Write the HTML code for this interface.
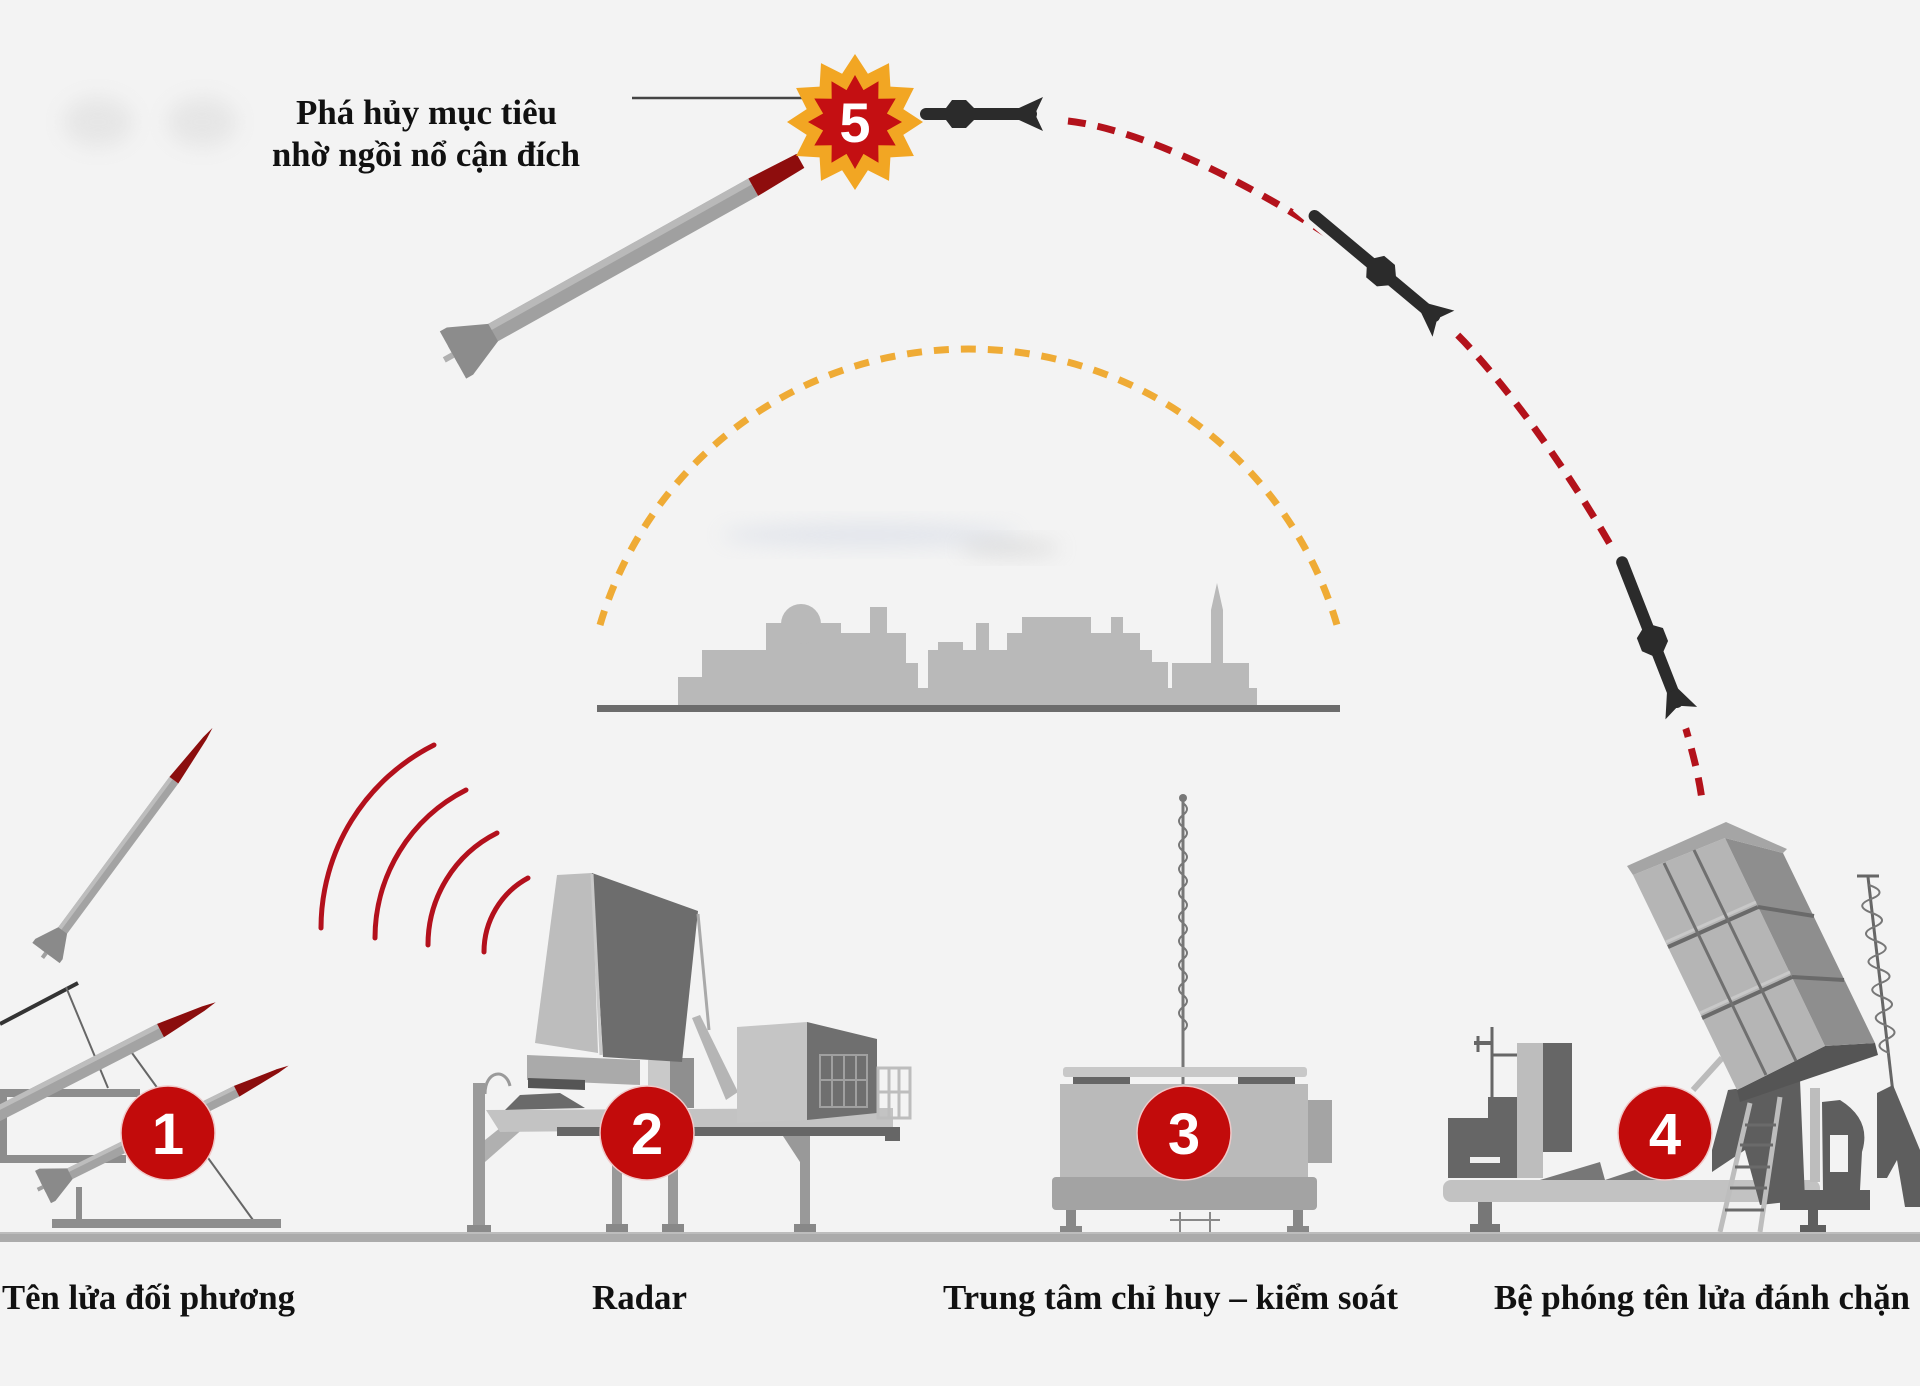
<!DOCTYPE html>
<html>
<head>
<meta charset="utf-8">
<style>
html,body{margin:0;padding:0;background:#f3f3f3;}
svg{display:block;}
.lbl{font-family:"Liberation Serif","DejaVu Serif",serif;font-weight:bold;font-size:35px;fill:#111;}
.num{font-family:"Liberation Sans","DejaVu Sans",sans-serif;font-weight:bold;font-size:58px;fill:#fff;}
</style>
</head>
<body>
<svg width="1920" height="1386" viewBox="0 0 1920 1386" xmlns="http://www.w3.org/2000/svg">
<defs>
<filter id="bl" x="-50%" y="-50%" width="200%" height="200%"><feGaussianBlur stdDeviation="10"/></filter>
</defs>
<rect x="0" y="0" width="1920" height="1386" fill="#f3f3f3"/>

<!-- soft smudges -->
<ellipse cx="98" cy="122" rx="35" ry="25" fill="#cfcfcf" opacity="0.35" filter="url(#bl)"/>
<ellipse cx="202" cy="122" rx="35" ry="25" fill="#cfcfcf" opacity="0.35" filter="url(#bl)"/>
<ellipse cx="870" cy="535" rx="150" ry="12" fill="#c9d0e0" opacity="0.4" filter="url(#bl)"/>
<ellipse cx="1010" cy="548" rx="50" ry="9" fill="#bdbdbd" opacity="0.35" filter="url(#bl)"/>

<!-- Top text -->
<text class="lbl" x="296" y="124" textLength="261" lengthAdjust="spacingAndGlyphs">Phá hủy mục tiêu</text>
<text class="lbl" x="272" y="166" textLength="308" lengthAdjust="spacingAndGlyphs">nhờ ngồi nổ cận đích</text>
<line x1="632" y1="98" x2="812" y2="98" stroke="#444" stroke-width="2.5"/>

<!-- Red dashed trajectory -->
<path d="M1068 121 C1190 135 1400 270 1470 348 C1545 430 1640 580 1665 660 C1690 740 1698 770 1702 800" fill="none" stroke="#b3121b" stroke-width="7" stroke-dasharray="18 12"/>

<!-- Yellow dome -->
<path d="M600 625 A384 384 0 0 1 1337 625" fill="none" stroke="#efab35" stroke-width="7" stroke-dasharray="15 12"/>

<!-- Skyline -->
<polygon fill="#b9b9b9" points="678,708 678,677 702,677 702,650 766,650 766,623 841,623 841,633 870,633 870,607 887,607 887,633 906,633 906,663 918,663 918,688 928,688 928,650 938,650 938,642 963,642 963,650 976,650 976,623 989,623 989,650 1007,650 1007,633 1022,633 1022,617 1091,617 1091,633 1111,633 1111,617 1123,617 1123,633 1140,633 1140,650 1152,650 1152,662 1168,662 1168,688 1172,688 1172,663 1211,663 1211,610 1217,583 1223,610 1223,663 1249,663 1249,688 1257,688 1257,708"/>
<circle cx="801" cy="624" r="20" fill="#b9b9b9"/>
<rect x="597" y="705" width="743" height="7" fill="#6c6c6c"/>

<!-- Big gray enemy rocket -->
<g transform="translate(453,355) rotate(-29.2)">
  <rect x="-10" y="-3" width="10" height="6" fill="#b0b0b0"/>
  <rect x="0" y="-10" width="344" height="20" fill="#a0a0a0"/>
  <rect x="0" y="-10" width="344" height="7" fill="#b9b9b9"/>
  <polygon points="344,-10 398,-8 398,8 344,10" fill="#8e0d0d"/>
  <polygon points="0,-27 8,-27 46,-10 46,10 8,27 0,27" fill="#8c8c8c"/>
</g>

<!-- Explosion star 5 -->
<polygon fill="#f2a623" points="855,54 867.9,73.7 889,63.1 890.4,86.6 913.9,88 903.3,109.1 923,122 903.3,134.9 913.9,156 890.4,157.4 889,180.9 867.9,170.3 855,190 842.1,170.3 821,180.9 819.6,157.4 796.1,156 806.7,134.9 787,122 806.7,109.1 796.1,88 819.6,86.6 821,63.1 842.1,73.7"/>
<polygon fill="#c40f12" points="855,75 863.5,90.1 878.5,81.3 878.3,98.7 895.7,98.5 886.9,113.5 902,122 886.9,130.5 895.7,145.5 878.3,145.3 878.5,162.7 863.5,153.9 855,169 846.5,153.9 831.5,162.7 831.7,145.3 814.3,145.5 823.1,130.5 808,122 823.1,113.5 814.3,98.5 831.7,98.7 831.5,81.3 846.5,90.1"/>
<text class="num" x="855" y="142" text-anchor="middle" style="font-size:56px">5</text>

<!-- Black interceptor rockets -->
<g transform="translate(1045,114) rotate(180)" fill="#2b2b2b">
  <line x1="14" y1="0" x2="119" y2="0" stroke="#2b2b2b" stroke-width="12" stroke-linecap="round"/>
  <polygon points="26,-6 2,-17 10,0 2,17 26,6"/>
  <polygon points="71,-6 79,-14 93,-14 99,-6 99,6 93,14 79,14 71,6"/>
</g>
<g transform="translate(1445,325) rotate(219.9)" fill="#2b2b2b">
  <line x1="-14" y1="0" x2="190" y2="0" stroke="#f3f3f3" stroke-width="20"/>
  <line x1="14" y1="0" x2="170" y2="0" stroke="#2b2b2b" stroke-width="12" stroke-linecap="round"/>
  <polygon points="26,-6 2,-17 10,0 2,17 26,6"/>
  <polygon points="69,-6 77,-14 91,-14 97,-6 97,6 91,14 77,14 69,6"/>
</g>
<g transform="translate(1682,715) rotate(248.6)" fill="#2b2b2b">
  <line x1="-14" y1="0" x2="184" y2="0" stroke="#f3f3f3" stroke-width="20"/>
  <line x1="14" y1="0" x2="164" y2="0" stroke="#2b2b2b" stroke-width="12" stroke-linecap="round"/>
  <polygon points="26,-6 2,-17 10,0 2,17 26,6"/>
  <polygon points="66,-6 74,-14 88,-14 94,-6 94,6 88,14 74,14 66,6"/>
</g>

<!-- Radar waves -->
<g fill="none" stroke="#b3101c" stroke-width="5" stroke-linecap="round">
  <path d="M434 745 A205 205 0 0 0 321 928"/>
  <path d="M466 790 A166 166 0 0 0 375 938"/>
  <path d="M497 833 A125 125 0 0 0 428 945"/>
  <path d="M528 878 A84 84 0 0 0 484 952"/>
</g>

<!-- Ground -->
<rect x="0" y="1232" width="1920" height="10" fill="#ababab"/>
<rect x="0" y="1232" width="1920" height="2" fill="#bdbdbd"/>

<!-- ===== Launcher 1 (enemy) ===== -->
<rect x="0" y="1089" width="140" height="8" fill="#8d8d8d"/>
<rect x="0" y="1155" width="126" height="8" fill="#8d8d8d"/>
<rect x="0" y="1097" width="7" height="58" fill="#8d8d8d"/>
<line x1="0" y1="1024" x2="78" y2="983" stroke="#333" stroke-width="4"/>
<line x1="66" y1="987" x2="108" y2="1088" stroke="#666" stroke-width="2"/>
<line x1="132" y1="1053" x2="253" y2="1220" stroke="#666" stroke-width="2"/>
<rect x="52" y="1219" width="229" height="9" fill="#8d8d8d"/>
<rect x="76" y="1187" width="6" height="33" fill="#8d8d8d"/>

<!-- flying rocket -->
<g transform="translate(46,953) rotate(-53.5)">
  <rect x="-6" y="-2" width="6" height="4" fill="#a0a0a0"/>
  <rect x="0" y="-5.5" width="215" height="11" fill="#a3a3a3"/>
  <rect x="0" y="-5.5" width="215" height="4" fill="#bdbdbd"/>
  <polygon points="215,-5.5 267,-2 280,0 267,2 215,5.5" fill="#8b0d0d"/>
  <polygon points="0,-17 5,-17 28,-5.5 28,5.5 5,17 0,17" fill="#8a8a8a"/>
</g>
<!-- middle rocket -->
<g transform="translate(-30,1128) rotate(-27.1)">
  <rect x="0" y="-7.5" width="214" height="15" fill="#a3a3a3"/>
  <rect x="0" y="-7.5" width="214" height="5" fill="#bdbdbd"/>
  <polygon points="214,-7.5 262,-2.5 276,0 262,2.5 214,7.5" fill="#8b0d0d"/>
</g>
<!-- lower rocket -->
<g transform="translate(43,1187) rotate(-26.3)">
  <rect x="-6" y="-2" width="6" height="4" fill="#a0a0a0"/>
  <rect x="0" y="-6" width="216" height="12" fill="#a3a3a3"/>
  <rect x="0" y="-6" width="216" height="4" fill="#bdbdbd"/>
  <polygon points="216,-6 262,-2 274,0 262,2 216,6" fill="#8b0d0d"/>
  <polygon points="0,-18 5,-18 30,-6 30,6 5,18 0,18" fill="#8a8a8a"/>
</g>
<circle cx="168" cy="1133" r="47" fill="#c20b0b" stroke="#f0c8c8" stroke-width="1.5"/>
<text class="num" x="168" y="1154" text-anchor="middle">1</text>

<!-- ===== Radar 2 ===== -->
<rect x="473" y="1083" width="12" height="147" fill="#9a9a9a"/>
<rect x="467" y="1225" width="24" height="7" fill="#8a8a8a"/>
<path d="M485 1094 C485 1070 506 1068 510 1086" fill="none" stroke="#9a9a9a" stroke-width="3"/>
<polygon points="485,1162 485,1140 520,1112 542,1112" fill="#b0b0b0"/>
<polygon points="486,1110 893,1108 893,1128 500,1132" fill="#c3c3c3"/>
<rect x="557" y="1127" width="343" height="9" fill="#666"/>
<rect x="885" y="1127" width="15" height="14" fill="#666"/>
<rect x="612" y="1136" width="10" height="92" fill="#999"/>
<rect x="668" y="1136" width="10" height="92" fill="#999"/>
<rect x="800" y="1136" width="10" height="92" fill="#999"/>
<rect x="606" y="1224" width="22" height="8" fill="#888"/>
<rect x="662" y="1224" width="22" height="8" fill="#888"/>
<rect x="794" y="1224" width="22" height="8" fill="#888"/>
<polygon points="783,1136 800,1136 800,1162" fill="#999"/>
<polygon points="527,1055 640,1060 640,1085 527,1080" fill="#aaaaaa"/>
<polygon points="528,1078 585,1080 585,1090 528,1088" fill="#555"/>
<polygon points="505,1110 520,1095 560,1093 585,1108" fill="#6a6a6a"/>
<rect x="648" y="1060" width="22" height="45" fill="#c9c9c9"/>
<rect x="670" y="1058" width="24" height="50" fill="#8f8f8f"/>
<polygon points="557,875 592,873 598,1053 535,1043" fill="#bdbdbd"/>
<polygon points="592,873 698,911 682,1062 603,1057" fill="#6d6d6d"/>
<line x1="592" y1="874" x2="601" y2="1055" stroke="#c9c9c9" stroke-width="3"/>
<line x1="698" y1="914" x2="709" y2="1030" stroke="#a9a9a9" stroke-width="3"/>
<polygon points="692,1018 700,1015 738,1092 726,1100" fill="#b5b5b5"/>
<polygon points="737,1027 807,1022 807,1120 737,1123" fill="#c5c5c5"/>
<polygon points="807,1022 877,1039 877,1113 807,1120" fill="#6f6f6f"/>
<g stroke="#a0a0a0" stroke-width="2" fill="none">
  <rect x="820" y="1055" width="47" height="52"/>
  <line x1="832" y1="1055" x2="832" y2="1107"/>
  <line x1="844" y1="1055" x2="844" y2="1107"/>
  <line x1="856" y1="1055" x2="856" y2="1107"/>
  <line x1="820" y1="1080" x2="867" y2="1080"/>
</g>
<g stroke="#bdbdbd" stroke-width="3" fill="none">
  <rect x="878" y="1068" width="32" height="50"/>
  <line x1="889" y1="1068" x2="889" y2="1118"/>
  <line x1="899" y1="1068" x2="899" y2="1118"/>
  <line x1="878" y1="1092" x2="910" y2="1092"/>
</g>
<circle cx="647" cy="1133" r="47" fill="#c20b0b" stroke="#f0c8c8" stroke-width="1.5"/>
<text class="num" x="647" y="1154" text-anchor="middle">2</text>

<!-- ===== Command center 3 ===== -->
<line x1="1183" y1="800" x2="1183" y2="1086" stroke="#777" stroke-width="3"/>
<circle cx="1183" cy="798" r="4" fill="#777"/>
<path d="M1183 803 Q1191 809 1183 815 T1183 827 T1183 839 T1183 851 T1183 863 T1183 875 T1183 887 T1183 899 T1183 911 T1183 923 T1183 935 T1183 947 T1183 959 T1183 971 T1183 983 T1183 995 T1183 1007 T1183 1019 T1183 1031" fill="none" stroke="#777" stroke-width="2"/>
<rect x="1063" y="1067" width="244" height="10" rx="3" fill="#c8c8c8"/>
<rect x="1073" y="1077" width="57" height="7" fill="#666"/>
<rect x="1238" y="1077" width="57" height="7" fill="#666"/>
<rect x="1060" y="1084" width="248" height="94" fill="#bababa"/>
<rect x="1308" y="1100" width="24" height="63" fill="#a4a4a4"/>
<rect x="1052" y="1177" width="265" height="33" rx="4" fill="#a3a3a3"/>
<rect x="1066" y="1210" width="10" height="18" fill="#888"/>
<rect x="1060" y="1226" width="22" height="6" fill="#888"/>
<rect x="1293" y="1210" width="10" height="18" fill="#888"/>
<rect x="1287" y="1226" width="22" height="6" fill="#888"/>
<g stroke="#888" stroke-width="2">
  <line x1="1170" y1="1220" x2="1220" y2="1220"/>
  <line x1="1180" y1="1212" x2="1180" y2="1232"/>
  <line x1="1210" y1="1212" x2="1210" y2="1232"/>
</g>
<circle cx="1184" cy="1133" r="47" fill="#c20b0b" stroke="#f0c8c8" stroke-width="1.5"/>
<text class="num" x="1184" y="1154" text-anchor="middle">3</text>

<!-- ===== Launcher 4 ===== -->
<rect x="1443" y="1180" width="377" height="22" rx="8" fill="#c2c2c2"/>
<polygon points="1540,1180 1600,1162 1605,1180" fill="#777"/>
<polygon points="1605,1180 1650,1165 1660,1180" fill="#777"/>
<rect x="1448" y="1118" width="69" height="60" fill="#666"/>
<rect x="1488" y="1097" width="29" height="23" fill="#666"/>
<rect x="1470" y="1157" width="30" height="6" fill="#f0f0f0"/>
<line x1="1492" y1="1027" x2="1492" y2="1100" stroke="#666" stroke-width="3"/>
<line x1="1474" y1="1043" x2="1492" y2="1043" stroke="#666" stroke-width="4"/>
<line x1="1478" y1="1036" x2="1478" y2="1052" stroke="#666" stroke-width="3"/>
<line x1="1492" y1="1055" x2="1517" y2="1055" stroke="#666" stroke-width="3"/>
<rect x="1517" y="1043" width="26" height="135" fill="#bdbdbd"/>
<rect x="1543" y="1043" width="29" height="109" fill="#666"/>
<rect x="1478" y="1202" width="14" height="26" fill="#777"/>
<rect x="1470" y="1224" width="30" height="8" fill="#777"/>

<!-- right antenna -->
<line x1="1868" y1="877" x2="1893" y2="1093" stroke="#666" stroke-width="3"/>
<line x1="1857" y1="876" x2="1879" y2="876" stroke="#666" stroke-width="3"/>
<path d="M1869 885 Q1889 892 1871 899 T1872 913 T1874 927 T1876 941 T1877 955 T1879 969 T1881 983 T1882 997 T1884 1011 T1885 1025 T1887 1039 T1889 1053" fill="none" stroke="#777" stroke-width="2"/>

<!-- dark mechanism -->
<line x1="1693" y1="1090" x2="1722" y2="1058" stroke="#bbb" stroke-width="6"/>
<polygon points="1728,1090 1800,1080 1805,1200 1760,1205 1745,1150 1712,1172 1712,1150" fill="#5e5e5e"/>
<path d="M1822 1102 L1840 1100 Q1872 1120 1862 1152 L1860 1190 L1823 1192 Z M1830 1135 L1848 1135 L1848 1172 L1830 1172 Z" fill="#5e5e5e" fill-rule="evenodd"/>
<polygon points="1877,1093 1893,1085 1920,1150 1920,1207 1905,1207 1897,1160 1887,1178 1877,1178" fill="#5e5e5e"/>
<rect x="1780" y="1190" width="90" height="20" fill="#5e5e5e"/>
<rect x="1810" y="1088" width="10" height="94" fill="#bdbdbd"/>
<rect x="1808" y="1205" width="10" height="23" fill="#5e5e5e"/>
<rect x="1800" y="1225" width="26" height="7" fill="#5e5e5e"/>
<g>
  <line x1="1750" y1="1103" x2="1720" y2="1232" stroke="#bdbdbd" stroke-width="5"/>
  <line x1="1780" y1="1097" x2="1760" y2="1232" stroke="#bdbdbd" stroke-width="5"/>
  <g stroke="#6a6a6a" stroke-width="3">
    <line x1="1745" y1="1125" x2="1776" y2="1125"/>
    <line x1="1740" y1="1145" x2="1773" y2="1145"/>
    <line x1="1735" y1="1167" x2="1770" y2="1167"/>
    <line x1="1730" y1="1188" x2="1767" y2="1188"/>
    <line x1="1725" y1="1210" x2="1764" y2="1210"/>
  </g>
</g>

<!-- launcher box -->
<polygon points="1737,1090 1825,1046 1875,1043 1878,1055 1740,1102" fill="#555"/>
<polygon points="1633,875 1725,838 1825,1046 1737,1090" fill="#b5b5b5"/>
<polygon points="1725,838 1783,853 1875,1043 1825,1046" fill="#8e8e8e"/>
<polygon points="1627,866 1726,822 1787,849 1783,853 1725,838 1633,875" fill="#a5a5a5"/>
<g stroke="#6a6a6a" stroke-width="4">
  <line x1="1668" y1="947" x2="1758" y2="907"/>
  <line x1="1758" y1="907" x2="1814" y2="916"/>
  <line x1="1702" y1="1018" x2="1792" y2="977"/>
  <line x1="1792" y1="977" x2="1844" y2="980"/>
</g>
<g stroke="#c8c8c8" stroke-width="3">
  <line x1="1666" y1="942" x2="1756" y2="902"/>
  <line x1="1700" y1="1013" x2="1790" y2="972"/>
</g>
<g stroke="#707070" stroke-width="3">
  <line x1="1664" y1="863" x2="1766" y2="1075"/>
  <line x1="1694" y1="850" x2="1796" y2="1061"/>
</g>
<circle cx="1665" cy="1133" r="47" fill="#c20b0b" stroke="#f0c8c8" stroke-width="1.5"/>
<text class="num" x="1665" y="1154" text-anchor="middle">4</text>

<!-- Labels -->
<text class="lbl" x="2" y="1309" textLength="293" lengthAdjust="spacingAndGlyphs">Tên lửa đối phương</text>
<text class="lbl" x="592" y="1309" textLength="95" lengthAdjust="spacingAndGlyphs">Radar</text>
<text class="lbl" x="943" y="1309" textLength="455" lengthAdjust="spacingAndGlyphs">Trung tâm chỉ huy – kiểm soát</text>
<text class="lbl" x="1494" y="1309" textLength="416" lengthAdjust="spacingAndGlyphs">Bệ phóng tên lửa đánh chặn</text>
</svg>
</body>
</html>
